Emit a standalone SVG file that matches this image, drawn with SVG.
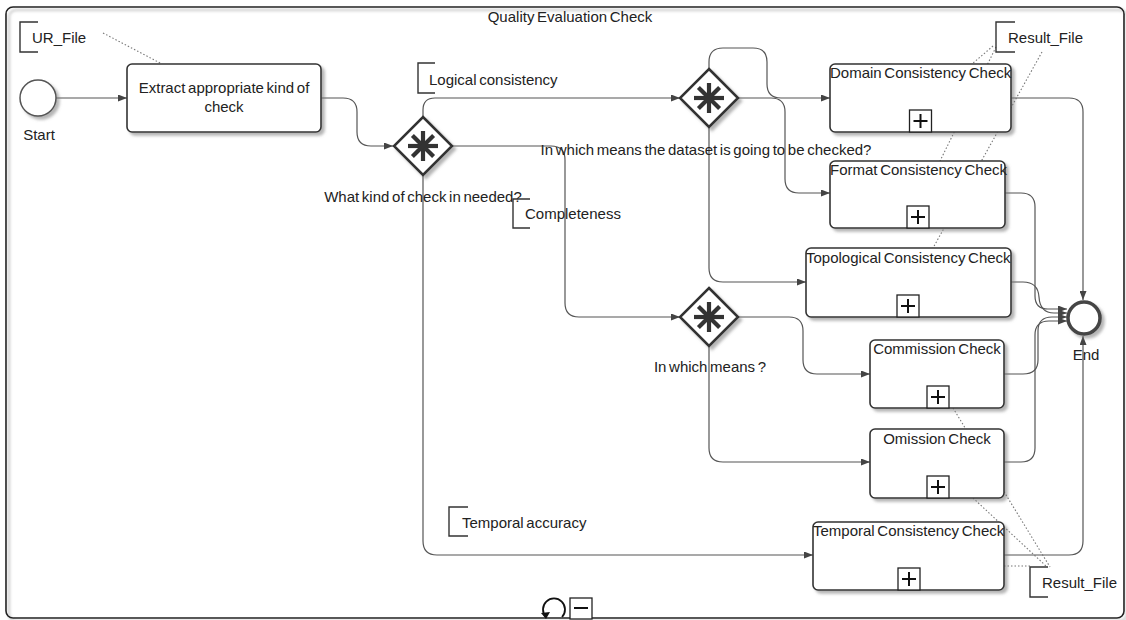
<svg xmlns="http://www.w3.org/2000/svg" width="1126" height="620" viewBox="0 0 1126 620">
  <style>
    .lbl { font-family: "Liberation Sans", Arial, sans-serif; font-size: 15px; word-spacing: -1.5px; fill: #222; }
    .mid { text-anchor: middle; }
    .task { fill: #fff; stroke: #333; stroke-width: 1.6; filter: url(#shade); }
    .gw { fill: #fff; stroke: #333; stroke-width: 2.5; filter: url(#shade); }
    .star { stroke: #333; stroke-width: 4.2; stroke-linecap: butt; }
    .plusbox { fill: #fff; stroke: #222; stroke-width: 1.3; }
    .plus { stroke: #111; stroke-width: 2; }
    .flow { fill: none; stroke: #555; stroke-width: 1.2; marker-end: url(#arrow); }
    .assoc { fill: none; stroke: #777; stroke-width: 1.1; stroke-dasharray: 1.5 2; }
    .bracket { fill: none; stroke: #333; stroke-width: 1.4; }
  </style>
  <defs>
    <filter id="shade" x="-10%" y="-10%" width="130%" height="130%">
      <feDropShadow dx="3" dy="3" stdDeviation="1.5" flood-color="#777" flood-opacity="0.55"/>
    </filter>
    <marker id="arrow" viewBox="0 0 9 7" refX="9" refY="3.5" markerWidth="9" markerHeight="7" markerUnits="userSpaceOnUse" orient="auto">
      <path d="M0,0 L9,3.5 L0,7 z" fill="#444"/>
    </marker>
    <g id="gwShape">
      <path class="gw" d="M0,-29 L29,0 L0,29 L-29,0 Z"/>
      <line class="star" x1="-15" y1="0" x2="15" y2="0"/>
      <line class="star" x1="0" y1="-15" x2="0" y2="15"/>
      <line class="star" x1="-10.6" y1="-10.6" x2="10.6" y2="10.6"/>
      <line class="star" x1="-10.6" y1="10.6" x2="10.6" y2="-10.6"/>
    </g>
    <g id="collapsed">
      <rect class="plusbox" x="-11" y="-22" width="22" height="22"/>
      <line class="plus" x1="-7" y1="-11" x2="7" y2="-11"/>
      <line class="plus" x1="0" y1="-18" x2="0" y2="-4"/>
    </g>
  </defs>

  <rect width="1126" height="620" fill="#fff"/>

  <!-- sub-process frame -->
  <g id="subprocess">
    <rect x="6" y="7" width="1118" height="611" rx="7" fill="none" stroke="#222" stroke-width="1.6" filter="url(#shade)"/>
    <text class="lbl mid" x="570" y="22">Quality Evaluation Check</text>
    <!-- loop and collapse markers -->
    <path d="M546,617 A11,11 0 1 1 562,617" fill="none" stroke="#111" stroke-width="1.8"/>
    <path d="M541,613 L546,619 L550,612 Z" fill="#111"/>
    <rect x="570" y="598" width="22" height="21" fill="#fff" stroke="#222" stroke-width="1.3"/>
    <line x1="574" y1="608" x2="588" y2="608" stroke="#111" stroke-width="2"/>
  </g>

  <!-- connectors -->
  <g id="connectors">
    <path class="flow" d="M56,98 H127"/>
    <path class="flow" d="M321,98 H343 Q357,98 357,112 V132 Q357,146 371,146 H393"/>
    <path class="flow" d="M423,117 V110 Q423,98 435,98 H680"/>
    <path class="flow" d="M452,146 H551 Q565,146 565,160 V303 Q565,317 579,317 H680"/>
    <path class="flow" d="M423,176 V541 Q423,555 437,555 H813"/>
    <path class="flow" d="M709,69 V62 Q709,48 723,48 H753 Q767,48 767,62 V84 Q767,98 781,98 H830"/>
    <path class="flow" d="M739,98 H771 Q785,98 785,112 V179 Q785,193 799,193 H830"/>
    <path class="flow" d="M709,127 V268 Q709,282 723,282 H806"/>
    <path class="flow" d="M739,317 H789 Q803,317 803,331 V360 Q803,374 817,374 H870"/>
    <path class="flow" d="M709,346 V448 Q709,462 723,462 H870"/>
    <path class="flow" d="M1011,98 H1069 Q1083,98 1083,112 V300"/>
    <path class="flow" d="M1005,193 H1021 Q1035,193 1035,207 V296 Q1035,309 1048,309 H1067"/>
    <path class="flow" d="M1011,282 H1023 Q1038,282 1039,297 Q1040,313 1054,313 H1067"/>
    <path class="flow" d="M1004,374 H1023 Q1038,374 1038,360 V331 Q1038,317 1052,317 H1067"/>
    <path class="flow" d="M1004,462 H1021 Q1035,462 1035,448 V335 Q1035,321 1049,321 H1067"/>
    <path class="flow" d="M1004,555 H1069 Q1083,555 1083,541 V336"/>
    <!-- data associations -->
    <path class="assoc" d="M103,33 L162,64"/>
    <path class="assoc" d="M993,46 L972,64"/>
    <path class="assoc" d="M996,47 L940,161"/>
    <path class="assoc" d="M1042,52 L933,248"/>
    <path class="assoc" d="M953,408 L1050,567"/>
    <path class="assoc" d="M973,498 L1046,566"/>
    <path class="assoc" d="M1004,566 L1030,566"/>
  </g>

  <g id="start">
    <circle cx="38" cy="98" r="18" fill="#fff" stroke="#555" stroke-width="1.5" filter="url(#shade)"/>
    <text class="lbl mid" x="39" y="140">Start</text>
  </g>

  <g id="ur-file">
    <path class="bracket" d="M38,22 H20 V52 H38"/>
    <text class="lbl" x="32" y="43">UR_File</text>
  </g>

  <g id="extract-task">
    <rect class="task" x="127" y="64" width="194" height="68" rx="5"/>
    <text class="lbl mid" x="224" y="93">Extract appropriate kind of</text>
    <text class="lbl mid" x="224" y="112">check</text>
  </g>

  <g id="gateway-kind">
    <use href="#gwShape" x="423" y="146"/>
    <text class="lbl mid" x="423" y="202">What kind of check in needed?</text>
  </g>

  <g id="logical-consistency">
    <path class="bracket" d="M435,63 H418 V93 H435"/>
    <text class="lbl" x="429" y="85">Logical consistency</text>
  </g>

  <g id="completeness">
    <path class="bracket" d="M530,199 H513 V228 H530"/>
    <text class="lbl" x="525" y="219">Completeness</text>
  </g>

  <g id="temporal-accuracy">
    <path class="bracket" d="M468,507 H449 V536 H468"/>
    <text class="lbl" x="462" y="528">Temporal accuracy</text>
  </g>

  <g id="gateway-dataset">
    <use href="#gwShape" x="709" y="98"/>
    <text class="lbl mid" x="706" y="155">In which means the dataset is going to be checked?</text>
  </g>

  <g id="gateway-means">
    <use href="#gwShape" x="709" y="317"/>
    <text class="lbl mid" x="710" y="372">In which means ?</text>
  </g>

  <g id="domain-check">
    <rect class="task" x="830" y="64" width="181" height="68" rx="5"/>
    <text class="lbl" x="830" y="78">Domain Consistency Check</text>
    <use href="#collapsed" x="920.5" y="132"/>
  </g>

  <g id="format-check">
    <rect class="task" x="830" y="161" width="175" height="67" rx="5"/>
    <text class="lbl" x="830" y="175">Format Consistency Check</text>
    <use href="#collapsed" x="918" y="228"/>
  </g>

  <g id="topological-check">
    <rect class="task" x="806" y="248" width="205" height="69" rx="5"/>
    <text class="lbl" x="806" y="263">Topological Consistency Check</text>
    <use href="#collapsed" x="908" y="317"/>
  </g>

  <g id="commission-check">
    <rect class="task" x="870" y="340" width="134" height="68" rx="5"/>
    <text class="lbl mid" x="937" y="354">Commission Check</text>
    <use href="#collapsed" x="938" y="408"/>
  </g>

  <g id="omission-check">
    <rect class="task" x="870" y="429" width="134" height="69" rx="5"/>
    <text class="lbl mid" x="937" y="444">Omission Check</text>
    <use href="#collapsed" x="938" y="498"/>
  </g>

  <g id="temporal-check">
    <rect class="task" x="813" y="522" width="191" height="68" rx="5"/>
    <text class="lbl" x="813" y="536">Temporal Consistency Check</text>
    <use href="#collapsed" x="909" y="590"/>
  </g>

  <g id="result-file-top">
    <path class="bracket" d="M1015,22 H996 V52 H1015"/>
    <text class="lbl" x="1008" y="43">Result_File</text>
  </g>

  <g id="result-file-bottom">
    <path class="bracket" d="M1048,567 H1030 V597 H1048"/>
    <text class="lbl" x="1042" y="588">Result_File</text>
  </g>

  <g id="end">
    <circle cx="1084" cy="318" r="16" fill="#fff" stroke="#444" stroke-width="3.5" filter="url(#shade)"/>
    <text class="lbl mid" x="1086" y="360">End</text>
  </g>
</svg>
